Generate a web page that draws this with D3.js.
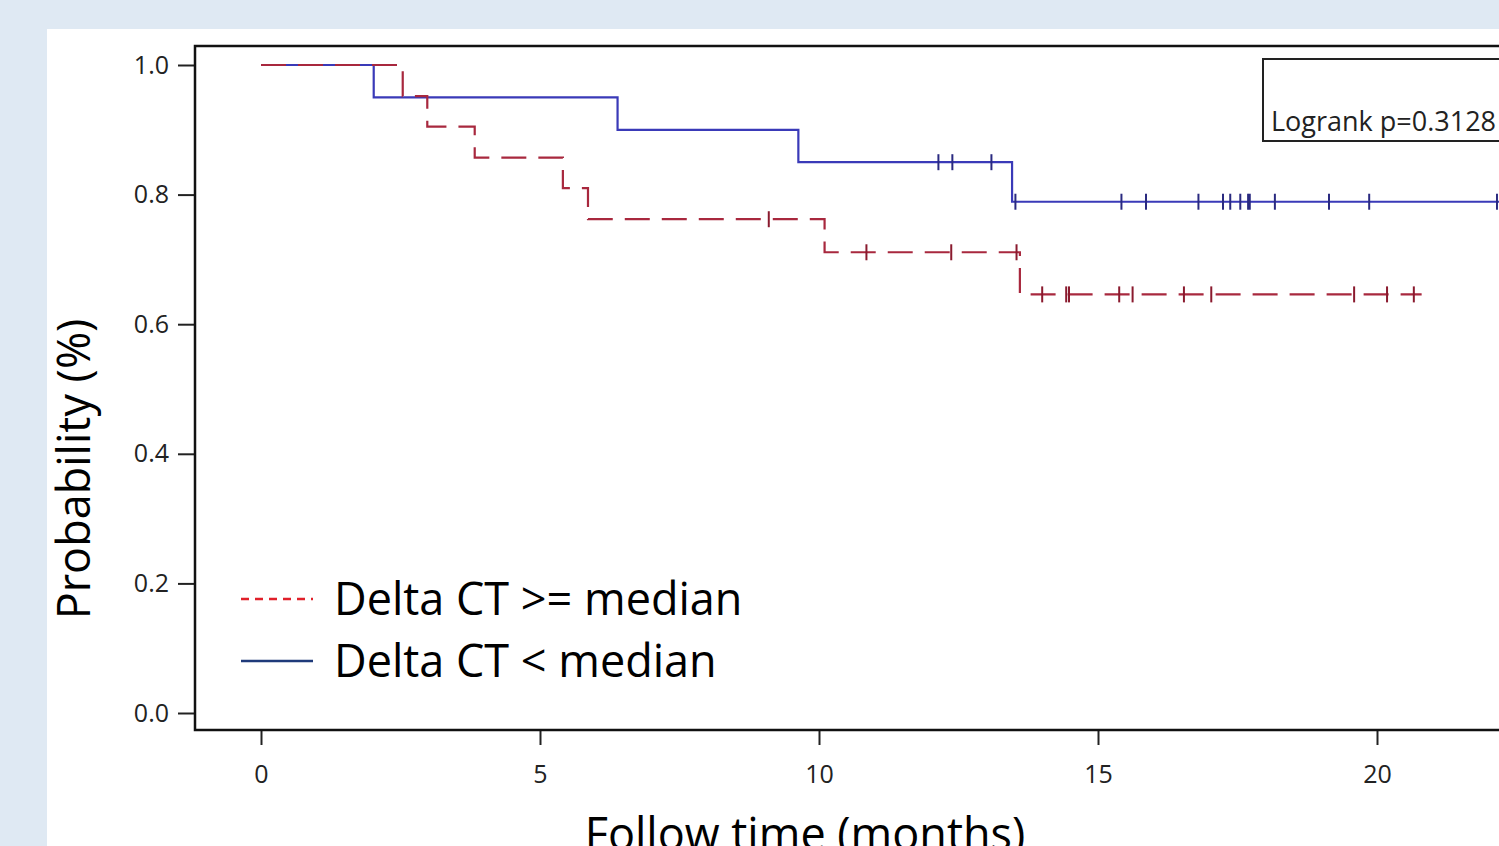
<!DOCTYPE html>
<html>
<head>
<meta charset="utf-8">
<script src="https://cdn.jsdelivr.net/npm/d3@7"></script>
<style>
  html, body { margin: 0; padding: 0; background: #dfe9f3; overflow: hidden; }
  svg { display: block; }
</style>
</head>
<body>
<div id="chart"></div>
<script>
// step curves: time of each step (months) and survival after it
const highTimes = [0, 2.54, 2.98, 3.83, 5.41, 5.86, 10.1, 13.6];
const highSurv = [1.0, 0.952, 0.905, 0.857, 0.81, 0.762, 0.711, 0.646];
const highEnd = 20.8;
const highCensor = [9.1, 10.85, 12.37, 13.54, 14.0, 14.43, 14.48, 15.38, 15.62, 16.54, 17.03, 19.59, 20.18, 20.66];

const lowTimes = [0, 2.02, 6.39, 9.63, 13.46];
const lowSurv = [1.0, 0.95, 0.9, 0.85, 0.789];
const lowEnd = 22.2;
const lowCensor = [12.14, 12.39, 13.09, 13.52, 15.42, 15.86, 16.8, 17.24, 17.37, 17.55, 17.69, 17.72, 18.17, 19.14, 19.86, 22.15];

const xTicks = [0, 5, 10, 15, 20];
const yTicks = [0.0, 0.2, 0.4, 0.6, 0.8, 1.0];
const legendLabels = ["Delta CT >= median", "Delta CT < median"];
const pValueText = "Logrank p=0.3128";

const W = 1499, H = 846;
const svg = d3.select("#chart").append("svg")
  .attr("width", W).attr("height", H);

// white panel
svg.append("rect")
  .attr("x", 47).attr("y", 29)
  .attr("width", W).attr("height", H)
  .attr("fill", "#ffffff");

const x = d3.scaleLinear().domain([0, 20]).range([261, 1377]);
const y = d3.scaleLinear().domain([0, 1]).range([713, 65]);

const frame = { left: 195, top: 46, bottom: 730 };

const tickFont = "'Open Sans', 'Noto Sans', sans-serif";

// y axis
const yAxis = svg.append("g")
  .attr("transform", `translate(${frame.left},0)`)
  .call(d3.axisLeft(y).tickValues(yTicks).tickFormat(d3.format(".1f")).tickSize(17).tickPadding(9));
yAxis.select(".domain").remove();
yAxis.selectAll("line").attr("stroke", "#222").attr("stroke-width", 2);
yAxis.selectAll("text").attr("font-family", tickFont).attr("font-size", 25).attr("fill", "#222");

// x axis
const xAxis = svg.append("g")
  .attr("transform", `translate(0,${frame.bottom})`)
  .call(d3.axisBottom(x).tickValues(xTicks).tickSize(15).tickPadding(20));
xAxis.select(".domain").remove();
xAxis.selectAll("line").attr("stroke", "#222").attr("stroke-width", 2);
xAxis.selectAll("text").attr("font-family", tickFont).attr("font-size", 25).attr("fill", "#222");

// frame (right side runs past the window)
svg.append("path")
  .attr("d", `M${W + 10},${frame.top}H${frame.left}V${frame.bottom}H${W + 10}`)
  .attr("fill", "none")
  .attr("stroke", "#111")
  .attr("stroke-width", 2.5);

function stepPath(times, surv, end) {
  const pts = [];
  times.forEach((t, i) => {
    if (i > 0) pts.push([t, surv[i - 1]]);
    pts.push([t, surv[i]]);
  });
  pts.push([end, surv[surv.length - 1]]);
  return d3.line().x(d => x(d[0])).y(d => y(d[1]))(pts);
}

function survAt(times, surv, t) {
  let s = surv[0];
  times.forEach((tt, i) => { if (tt <= t) s = surv[i]; });
  return s;
}

const curves = [
  { times: lowTimes, surv: lowSurv, end: lowEnd, censor: lowCensor, color: "#3a3ab8", dash: null, tick: "#2a2a80" },
  { times: highTimes, surv: highSurv, end: highEnd, censor: highCensor, color: "#a8283e", dash: "25,12", tick: "#8a1a2e" }
];

curves.forEach(c => {
  svg.append("path")
    .attr("d", stepPath(c.times, c.surv, c.end))
    .attr("fill", "none")
    .attr("stroke", c.color)
    .attr("stroke-width", 2.2)
    .attr("stroke-dasharray", c.dash);

  svg.append("g").selectAll("line")
    .data(c.censor)
    .join("line")
    .attr("x1", d => x(d)).attr("x2", d => x(d))
    .attr("y1", d => y(survAt(c.times, c.surv, d)) - 8)
    .attr("y2", d => y(survAt(c.times, c.surv, d)) + 8)
    .attr("stroke", c.tick)
    .attr("stroke-width", 2);
});

// legend
const legendFont = "'Open Sans', 'Noto Sans', sans-serif";
const legend = svg.append("g");
const legendRows = [
  { label: legendLabels[0], color: "#e0202a", dash: "8,6", y: 599 },
  { label: legendLabels[1], color: "#1f3a7a", dash: null, y: 661 }
];
legendRows.forEach(r => {
  legend.append("line")
    .attr("x1", 241).attr("x2", 313)
    .attr("y1", r.y).attr("y2", r.y)
    .attr("stroke", r.color)
    .attr("stroke-width", 2.5)
    .attr("stroke-dasharray", r.dash);
  legend.append("text")
    .attr("x", 334).attr("y", r.y)
    .attr("dy", "0.35em")
    .attr("font-family", legendFont)
    .attr("font-size", 45)
    .attr("fill", "#000")
    .text(r.label);
});

// logrank box
svg.append("rect")
  .attr("x", 1263).attr("y", 59)
  .attr("width", 300).attr("height", 82)
  .attr("fill", "#fff")
  .attr("stroke", "#222")
  .attr("stroke-width", 2);
svg.append("text")
  .attr("x", 1271).attr("y", 131)
  .attr("font-family", tickFont)
  .attr("font-size", 27)
  .attr("fill", "#222")
  .text(pValueText);

// axis titles
svg.append("text")
  .attr("transform", `translate(90,469) rotate(-90)`)
  .attr("text-anchor", "middle")
  .attr("font-family", legendFont)
  .attr("font-size", 45)
  .attr("fill", "#000")
  .text("Probability (%)");

svg.append("text")
  .attr("x", 805).attr("y", 850)
  .attr("text-anchor", "middle")
  .attr("font-family", legendFont)
  .attr("font-size", 45)
  .attr("fill", "#000")
  .text("Follow time (months)");
</script>
</body>
</html>
